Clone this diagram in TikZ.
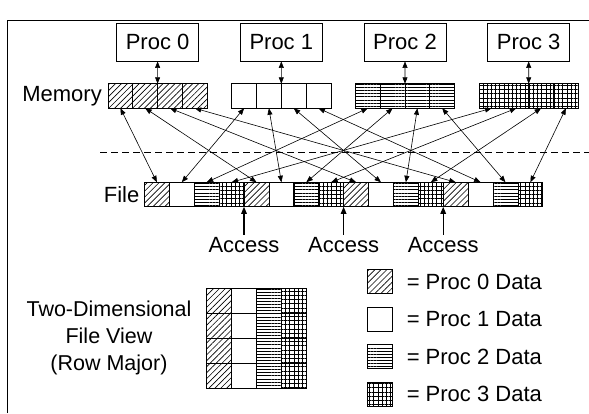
\documentclass[tikz,border=0pt]{standalone}
\usepackage{fontspec}
\setmainfont{Liberation Sans}
\usetikzlibrary{arrows.meta,patterns.meta,positioning}

\tikzset{
  cell/.style={draw, line width=0.8pt, minimum width=24.8pt, minimum height=24.5pt, inner sep=0pt, outer sep=0pt},
  pat0/.style={pattern={Lines[angle=45,distance=4.2pt,line width=0.65pt]}},
  pat1/.style={fill=white},
  pat2/.style={pattern={Lines[angle=0,distance=3.1pt,line width=0.75pt]}},
  pat3/.style={pattern={Lines[angle=0,distance=4.2pt,line width=0.75pt]},
    postaction={pattern={Lines[angle=90,distance=4.2pt,line width=0.75pt]}}},
  procbox/.style={draw, line width=0.8pt, minimum width=82pt, minimum height=38pt, inner sep=0pt},
  lbl/.style={inner sep=0pt},
  dbl/.style={{Triangle[length=6.5pt,width=5pt]}-{Triangle[length=6.5pt,width=5pt]}, line width=0.6pt},
  accarrow/.style={-{Triangle[length=7pt,width=5.5pt]}, line width=1.2pt, shorten <=2pt},
  divider/.style={line width=0.8pt, dash pattern=on 7pt off 4pt}
}

\begin{document}
\begin{tikzpicture}[x=1pt, y=-1pt, font=\fontsize{22}{26}\selectfont]
  \useasboundingbox (0,0) rectangle (589,413);
  \draw[line width=0.8pt] (7,413) -- (7,20) -- (589,20);

  % processes and their memory
  \foreach \p in {0,...,3} {
    \foreach \i in {0,...,3}
      \node[cell, pat\p] (m-\p-\i) at ({120.4+123.7*\p+24.8*\i},96) {};
    \node[procbox] (proc-\p) at ({157.6+123.7*\p},42) {Proc \p};
    \draw[dbl] (proc-\p.south) -- (m-\p-1.north east);
  }
  \node[lbl, left=6pt of m-0-0] (memlbl) {Memory};

  % file
  \foreach \k in {0,...,15} {
    \pgfmathtruncatemacro\p{mod(\k,4)}
    \node[cell, pat\p] (f-\k) at ({156.9+24.9*\k},194.5) {};
  }
  \node[lbl, left=5pt of f-0] (filelbl) {File};

  \draw[divider] (100,152) -- (589,152);

  % memory to file
  \foreach \p in {0,...,3}
    \foreach \i in {0,...,3} {
      \pgfmathtruncatemacro\k{4*\i+\p}
      \draw[dbl] (m-\p-\i.south) -- (f-\k.north);
    }

  % access points
  \foreach \j/\k in {1/3,2/7,3/11} {
    \node[lbl, below=30pt of f-\k.south east] (acc-\j) {Access};
    \draw[accarrow] (acc-\j.north) -- (f-\k.south east);
  }

  % two-dimensional view
  \foreach \r in {0,...,3}
    \foreach \c in {0,...,3}
      \node[cell, minimum height=25pt, pat\c] (v-\r-\c) at ({218.8+24.9*\c},{300.5+25*\r}) {};
  \node[lbl, align=center, font=\fontsize{21.5}{27}\selectfont] (view) at (109,338)
    {Two-Dimensional\\File View\\(Row Major)};

  % legend
  \foreach \p/\y in {0/281.5,1/319.5,2/356.5,3/394} {
    \node[cell, minimum height=24pt, pat\p] (key-\p) at (380.2,\y) {};
    \node[lbl, right=14pt of key-\p] (keytxt-\p) {= Proc \p\ Data};
  }
\end{tikzpicture}
\end{document}
